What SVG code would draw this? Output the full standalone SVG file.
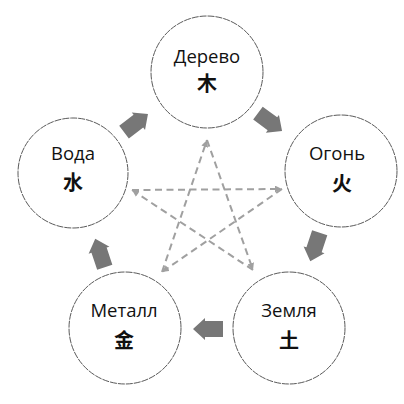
<svg xmlns="http://www.w3.org/2000/svg" xmlns:xlink="http://www.w3.org/1999/xlink" width="404" height="404" viewBox="0 0 404 404">
<style>
.node circle{fill:#fff;stroke:#5a5a5a;stroke-width:1;stroke-dasharray:7 1}
.lbl{font-family:"Open Sans","Noto Sans","Liberation Sans",sans-serif;font-size:18.5px;fill:#111;text-anchor:middle}
.cjk{font-family:"Noto Sans CJK SC","Noto Sans CJK JP",sans-serif;font-size:20px;font-weight:bold;fill:#111;text-anchor:middle}
.star{stroke:#a0a0a0;stroke-width:2;stroke-dasharray:7 4.5;fill:none;marker-end:url(#ah)}
.big{fill:#777}
</style>
<defs>
<marker id="ah" viewBox="0 0 10 10" refX="10" refY="5" markerWidth="3.5" markerHeight="3.5" orient="auto" markerUnits="strokeWidth">
<path d="M0,0 L10,5 L0,10 z" fill="#a0a0a0"/>
</marker>
<polygon id="blk" points="-15,-8 3,-8 3,-11 15,0 3,11 3,8 -15,8"/>
</defs>
<rect width="404" height="404" fill="#fff"/>
<g id="connectors">
<g id="cycle">
<use xlink:href="#blk" class="big" transform="translate(136,123) rotate(-37)"/>
<use xlink:href="#blk" class="big" transform="translate(270,122) rotate(36.5)"/>
<use xlink:href="#blk" class="big" transform="translate(315,247) rotate(108.3)"/>
<use xlink:href="#blk" class="big" transform="translate(208,329) rotate(180)"/>
<use xlink:href="#blk" class="big" transform="translate(100,253) rotate(-108.5)"/>
</g>
<g id="star">
<line class="star" x1="207" y1="140" x2="253" y2="270"/>
<line class="star" x1="253" y1="270" x2="132" y2="190"/>
<line class="star" x1="132" y1="190" x2="282" y2="189"/>
<line class="star" x1="282" y1="189" x2="162" y2="272"/>
<line class="star" x1="162" y1="272" x2="207" y2="140"/>
</g>
</g>
<g id="node-wood" class="node">
<circle cx="207" cy="72" r="56"/>
<text class="lbl" x="207" y="63">Дерево</text>
<text class="cjk" x="207" y="91">木</text>
</g>
<g id="node-fire" class="node">
<circle cx="341" cy="171" r="56"/>
<text class="lbl" x="337" y="160">Огонь</text>
<text class="cjk" x="342" y="191">火</text>
</g>
<g id="node-earth" class="node">
<circle cx="289" cy="328" r="56"/>
<text class="lbl" x="289" y="317">Земля</text>
<text class="cjk" x="289" y="348">土</text>
</g>
<g id="node-metal" class="node">
<circle cx="125" cy="328" r="56"/>
<text class="lbl" x="124" y="317">Металл</text>
<text class="cjk" x="124" y="348">金</text>
</g>
<g id="node-water" class="node">
<circle cx="73" cy="173" r="55"/>
<text class="lbl" x="73" y="160">Вода</text>
<text class="cjk" x="73" y="190">水</text>
</g>
</svg>
